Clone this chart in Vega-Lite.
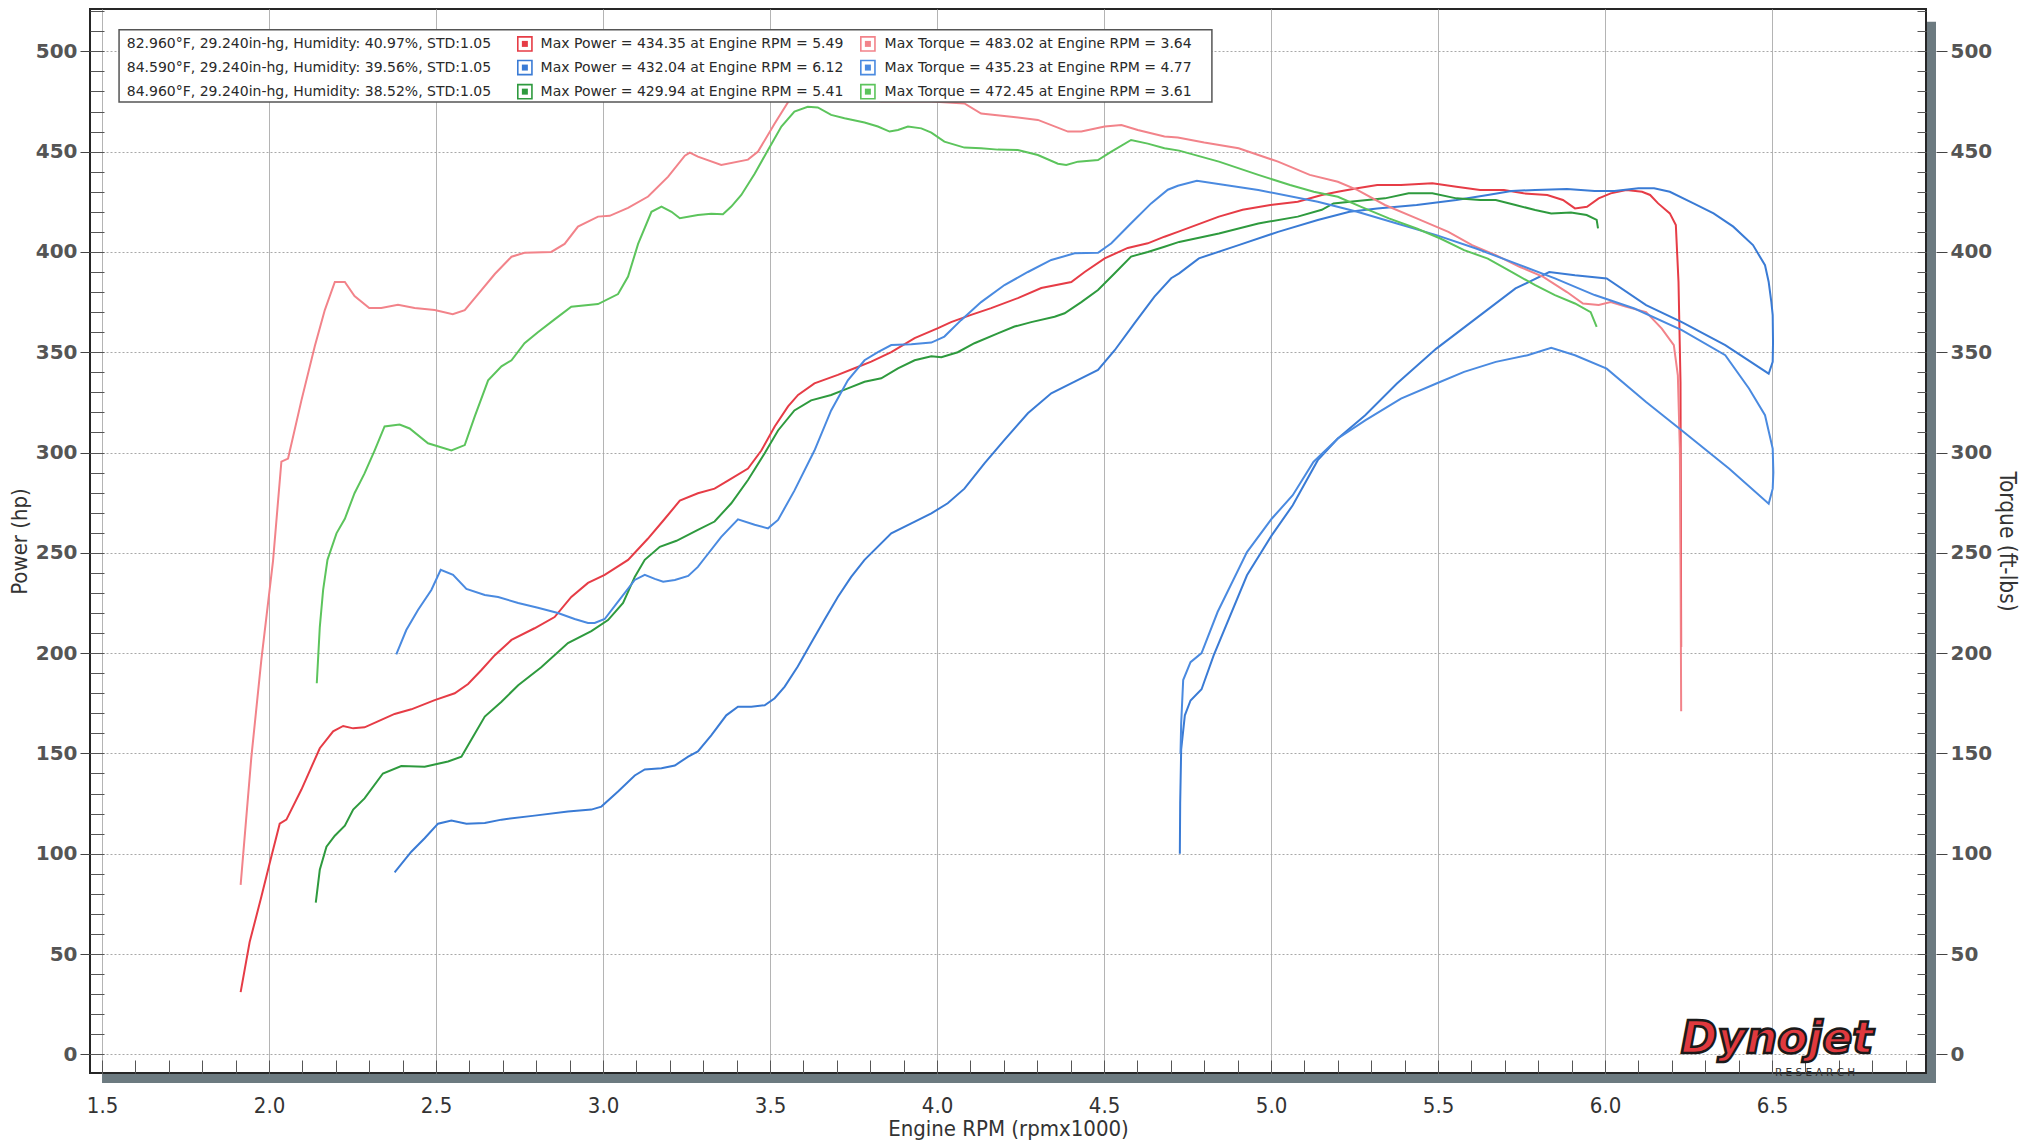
{
"$schema":"https://vega.github.io/schema/vega-lite/v6.json",
"width":1836,"height":1064,
"autosize":{"type":"none"},
"padding":{"left":90,"top":9,"right":102,"bottom":73},
"background":"white",
"config":{"view":{"stroke":"#262626","strokeWidth":2}},
"datasets":{
"power":[
{"run":"r1","rpm":1.915,"hp":31},{"run":"r1","rpm":1.942,"hp":56},{"run":"r1","rpm":1.977,"hp":78.6},{"run":"r1","rpm":2.007,"hp":98.6},{"run":"r1","rpm":2.032,"hp":115},{"run":"r1","rpm":2.052,"hp":117},{"run":"r1","rpm":2.097,"hp":132},{"run":"r1","rpm":2.152,"hp":152.6},{"run":"r1","rpm":2.192,"hp":161},{"run":"r1","rpm":2.222,"hp":163.7},{"run":"r1","rpm":2.252,"hp":162.5},{"run":"r1","rpm":2.286,"hp":163},{"run":"r1","rpm":2.326,"hp":166},{"run":"r1","rpm":2.376,"hp":169.7},{"run":"r1","rpm":2.426,"hp":172},{"run":"r1","rpm":2.496,"hp":176.6},{"run":"r1","rpm":2.556,"hp":180},{"run":"r1","rpm":2.596,"hp":184.6},{"run":"r1","rpm":2.636,"hp":191.6},{"run":"r1","rpm":2.676,"hp":199},{"run":"r1","rpm":2.726,"hp":206.6},{"run":"r1","rpm":2.795,"hp":212.4},{"run":"r1","rpm":2.855,"hp":218},{"run":"r1","rpm":2.905,"hp":228},{"run":"r1","rpm":2.955,"hp":235},{"run":"r1","rpm":3.005,"hp":239},{"run":"r1","rpm":3.075,"hp":246.5},{"run":"r1","rpm":3.134,"hp":257},{"run":"r1","rpm":3.18,"hp":266},{"run":"r1","rpm":3.23,"hp":276},{"run":"r1","rpm":3.284,"hp":279.7},{"run":"r1","rpm":3.334,"hp":282},{"run":"r1","rpm":3.374,"hp":286},{"run":"r1","rpm":3.434,"hp":292},{"run":"r1","rpm":3.474,"hp":301},{"run":"r1","rpm":3.514,"hp":313},{"run":"r1","rpm":3.554,"hp":323},{"run":"r1","rpm":3.584,"hp":328.7},{"run":"r1","rpm":3.633,"hp":334.5},{"run":"r1","rpm":3.703,"hp":338.7},{"run":"r1","rpm":3.753,"hp":342},{"run":"r1","rpm":3.803,"hp":345.3},{"run":"r1","rpm":3.863,"hp":350},{"run":"r1","rpm":3.933,"hp":357},{"run":"r1","rpm":4.003,"hp":362},{"run":"r1","rpm":4.042,"hp":365},{"run":"r1","rpm":4.102,"hp":368.6},{"run":"r1","rpm":4.162,"hp":372},{"run":"r1","rpm":4.242,"hp":377},{"run":"r1","rpm":4.312,"hp":382},{"run":"r1","rpm":4.402,"hp":385},{"run":"r1","rpm":4.442,"hp":390},{"run":"r1","rpm":4.502,"hp":396.8},{"run":"r1","rpm":4.571,"hp":402},{"run":"r1","rpm":4.631,"hp":404.3},{"run":"r1","rpm":4.681,"hp":407.6},{"run":"r1","rpm":4.721,"hp":410},{"run":"r1","rpm":4.844,"hp":417.6},{"run":"r1","rpm":4.915,"hp":421},{"run":"r1","rpm":4.998,"hp":423.4},{"run":"r1","rpm":5.08,"hp":425},{"run":"r1","rpm":5.152,"hp":428.4},{"run":"r1","rpm":5.2,"hp":430},{"run":"r1","rpm":5.258,"hp":431.7},{"run":"r1","rpm":5.318,"hp":433.4},{"run":"r1","rpm":5.389,"hp":433.4},{"run":"r1","rpm":5.483,"hp":434.2},{"run":"r1","rpm":5.555,"hp":432.5},{"run":"r1","rpm":5.626,"hp":430.9},{"run":"r1","rpm":5.697,"hp":430.9},{"run":"r1","rpm":5.756,"hp":429.2},{"run":"r1","rpm":5.827,"hp":428.4},{"run":"r1","rpm":5.874,"hp":425.9},{"run":"r1","rpm":5.91,"hp":421.7},{"run":"r1","rpm":5.946,"hp":422.5},{"run":"r1","rpm":5.981,"hp":426.7},{"run":"r1","rpm":6.017,"hp":429.2},{"run":"r1","rpm":6.064,"hp":430.9},{"run":"r1","rpm":6.111,"hp":430},{"run":"r1","rpm":6.135,"hp":428.4},{"run":"r1","rpm":6.159,"hp":424.2},{"run":"r1","rpm":6.194,"hp":419.2},{"run":"r1","rpm":6.212,"hp":413.4},{"run":"r1","rpm":6.22,"hp":385},{"run":"r1","rpm":6.226,"hp":335},{"run":"r1","rpm":6.228,"hp":203},
{"run":"r2","rpm":2.376,"hp":90.7},{"run":"r2","rpm":2.426,"hp":101},{"run":"r2","rpm":2.466,"hp":107.7},{"run":"r2","rpm":2.506,"hp":115},{"run":"r2","rpm":2.546,"hp":116.5},{"run":"r2","rpm":2.591,"hp":115},{"run":"r2","rpm":2.646,"hp":115.3},{"run":"r2","rpm":2.696,"hp":117},{"run":"r2","rpm":2.795,"hp":119},{"run":"r2","rpm":2.895,"hp":121},{"run":"r2","rpm":2.965,"hp":122},{"run":"r2","rpm":2.995,"hp":123.5},{"run":"r2","rpm":3.045,"hp":131},{"run":"r2","rpm":3.095,"hp":139},{"run":"r2","rpm":3.125,"hp":142},{"run":"r2","rpm":3.175,"hp":142.6},{"run":"r2","rpm":3.215,"hp":144},{"run":"r2","rpm":3.255,"hp":148.4},{"run":"r2","rpm":3.284,"hp":151},{"run":"r2","rpm":3.324,"hp":159},{"run":"r2","rpm":3.369,"hp":169},{"run":"r2","rpm":3.404,"hp":173.3},{"run":"r2","rpm":3.444,"hp":173.3},{"run":"r2","rpm":3.484,"hp":174},{"run":"r2","rpm":3.514,"hp":177.5},{"run":"r2","rpm":3.544,"hp":183.3},{"run":"r2","rpm":3.583,"hp":193.3},{"run":"r2","rpm":3.623,"hp":205},{"run":"r2","rpm":3.663,"hp":216.6},{"run":"r2","rpm":3.703,"hp":228},{"run":"r2","rpm":3.743,"hp":238},{"run":"r2","rpm":3.783,"hp":246.5},{"run":"r2","rpm":3.863,"hp":259.7},{"run":"r2","rpm":3.923,"hp":264.7},{"run":"r2","rpm":3.983,"hp":269.7},{"run":"r2","rpm":4.032,"hp":274.7},{"run":"r2","rpm":4.082,"hp":282},{"run":"r2","rpm":4.142,"hp":294.6},{"run":"r2","rpm":4.202,"hp":306.3},{"run":"r2","rpm":4.272,"hp":319.6},{"run":"r2","rpm":4.342,"hp":329.5},{"run":"r2","rpm":4.412,"hp":335.3},{"run":"r2","rpm":4.482,"hp":341.2},{"run":"r2","rpm":4.532,"hp":351},{"run":"r2","rpm":4.591,"hp":364.4},{"run":"r2","rpm":4.651,"hp":377.7},{"run":"r2","rpm":4.701,"hp":386.9},{"run":"r2","rpm":4.725,"hp":389.3},{"run":"r2","rpm":4.784,"hp":396.8},{"run":"r2","rpm":4.903,"hp":403.4},{"run":"r2","rpm":5.021,"hp":410},{"run":"r2","rpm":5.14,"hp":415.9},{"run":"r2","rpm":5.235,"hp":420},{"run":"r2","rpm":5.318,"hp":421.7},{"run":"r2","rpm":5.436,"hp":423.4},{"run":"r2","rpm":5.555,"hp":425.9},{"run":"r2","rpm":5.649,"hp":428.4},{"run":"r2","rpm":5.72,"hp":430.4},{"run":"r2","rpm":5.791,"hp":430.9},{"run":"r2","rpm":5.886,"hp":431.4},{"run":"r2","rpm":5.969,"hp":430.4},{"run":"r2","rpm":6.028,"hp":430.4},{"run":"r2","rpm":6.1,"hp":431.7},{"run":"r2","rpm":6.147,"hp":431.7},{"run":"r2","rpm":6.194,"hp":430},{"run":"r2","rpm":6.265,"hp":424.2},{"run":"r2","rpm":6.325,"hp":419.2},{"run":"r2","rpm":6.384,"hp":412.6},{"run":"r2","rpm":6.443,"hp":403.4},{"run":"r2","rpm":6.479,"hp":393.4},{"run":"r2","rpm":6.49,"hp":385},{"run":"r2","rpm":6.498,"hp":375},{"run":"r2","rpm":6.502,"hp":368.5},{"run":"r2","rpm":6.503,"hp":355},{"run":"r2","rpm":6.502,"hp":345.2},{"run":"r2","rpm":6.49,"hp":339.3},{"run":"r2","rpm":6.36,"hp":353.5},{"run":"r2","rpm":6.23,"hp":365},{"run":"r2","rpm":6.123,"hp":373.5},{"run":"r2","rpm":6.005,"hp":386.8},{"run":"r2","rpm":5.91,"hp":388.4},{"run":"r2","rpm":5.833,"hp":390},{"run":"r2","rpm":5.732,"hp":381.8},{"run":"r2","rpm":5.614,"hp":366.9},{"run":"r2","rpm":5.495,"hp":351.8},{"run":"r2","rpm":5.377,"hp":334.4},{"run":"r2","rpm":5.282,"hp":318.6},{"run":"r2","rpm":5.2,"hp":307},{"run":"r2","rpm":5.14,"hp":296.2},{"run":"r2","rpm":5.065,"hp":273.7},{"run":"r2","rpm":5.002,"hp":258.7},{"run":"r2","rpm":4.928,"hp":238.8},{"run":"r2","rpm":4.828,"hp":198.8},{"run":"r2","rpm":4.792,"hp":182},{"run":"r2","rpm":4.759,"hp":176.4},{"run":"r2","rpm":4.742,"hp":169},{"run":"r2","rpm":4.731,"hp":152},{"run":"r2","rpm":4.728,"hp":125},{"run":"r2","rpm":4.727,"hp":100},
{"run":"r3","rpm":2.14,"hp":75.6},{"run":"r3","rpm":2.152,"hp":92},{"run":"r3","rpm":2.172,"hp":103.5},{"run":"r3","rpm":2.197,"hp":109},{"run":"r3","rpm":2.227,"hp":114},{"run":"r3","rpm":2.252,"hp":122},{"run":"r3","rpm":2.286,"hp":127.6},{"run":"r3","rpm":2.341,"hp":140},{"run":"r3","rpm":2.396,"hp":143.7},{"run":"r3","rpm":2.466,"hp":143.4},{"run":"r3","rpm":2.536,"hp":146},{"run":"r3","rpm":2.576,"hp":148.4},{"run":"r3","rpm":2.606,"hp":157},{"run":"r3","rpm":2.646,"hp":168.4},{"run":"r3","rpm":2.696,"hp":175.8},{"run":"r3","rpm":2.746,"hp":184},{"run":"r3","rpm":2.815,"hp":193},{"run":"r3","rpm":2.895,"hp":205},{"run":"r3","rpm":2.965,"hp":211},{"run":"r3","rpm":3.015,"hp":216.5},{"run":"r3","rpm":3.06,"hp":225},{"run":"r3","rpm":3.095,"hp":238},{"run":"r3","rpm":3.125,"hp":246.5},{"run":"r3","rpm":3.17,"hp":253},{"run":"r3","rpm":3.22,"hp":256},{"run":"r3","rpm":3.284,"hp":261.4},{"run":"r3","rpm":3.334,"hp":265.6},{"run":"r3","rpm":3.384,"hp":274.7},{"run":"r3","rpm":3.434,"hp":286.3},{"run":"r3","rpm":3.484,"hp":299.6},{"run":"r3","rpm":3.524,"hp":311},{"run":"r3","rpm":3.573,"hp":321},{"run":"r3","rpm":3.623,"hp":326},{"run":"r3","rpm":3.683,"hp":328.7},{"run":"r3","rpm":3.733,"hp":332},{"run":"r3","rpm":3.783,"hp":335.3},{"run":"r3","rpm":3.833,"hp":337},{"run":"r3","rpm":3.883,"hp":342},{"run":"r3","rpm":3.933,"hp":346},{"run":"r3","rpm":3.983,"hp":348},{"run":"r3","rpm":4.013,"hp":347.5},{"run":"r3","rpm":4.062,"hp":350},{"run":"r3","rpm":4.112,"hp":354.5},{"run":"r3","rpm":4.182,"hp":359.4},{"run":"r3","rpm":4.232,"hp":362.8},{"run":"r3","rpm":4.282,"hp":365},{"run":"r3","rpm":4.352,"hp":367.7},{"run":"r3","rpm":4.382,"hp":369.4},{"run":"r3","rpm":4.432,"hp":375},{"run":"r3","rpm":4.482,"hp":381},{"run":"r3","rpm":4.532,"hp":389.4},{"run":"r3","rpm":4.581,"hp":397.7},{"run":"r3","rpm":4.631,"hp":400},{"run":"r3","rpm":4.681,"hp":402.6},{"run":"r3","rpm":4.725,"hp":405},{"run":"r3","rpm":4.844,"hp":409.2},{"run":"r3","rpm":4.962,"hp":414.2},{"run":"r3","rpm":5.08,"hp":417.6},{"run":"r3","rpm":5.152,"hp":421},{"run":"r3","rpm":5.187,"hp":424.2},{"run":"r3","rpm":5.258,"hp":425.4},{"run":"r3","rpm":5.341,"hp":426.7},{"run":"r3","rpm":5.412,"hp":429.2},{"run":"r3","rpm":5.483,"hp":429.2},{"run":"r3","rpm":5.555,"hp":426.7},{"run":"r3","rpm":5.626,"hp":425.9},{"run":"r3","rpm":5.673,"hp":425.9},{"run":"r3","rpm":5.732,"hp":423.4},{"run":"r3","rpm":5.791,"hp":420.9},{"run":"r3","rpm":5.839,"hp":419.2},{"run":"r3","rpm":5.898,"hp":419.7},{"run":"r3","rpm":5.945,"hp":418.4},{"run":"r3","rpm":5.975,"hp":416},{"run":"r3","rpm":5.979,"hp":411.7}
],
"torque":[
{"run":"r1","rpm":1.915,"tq":84.5},{"run":"r1","rpm":1.947,"tq":148},{"run":"r1","rpm":1.977,"tq":196.6},{"run":"r1","rpm":2.012,"tq":246},{"run":"r1","rpm":2.037,"tq":295.5},{"run":"r1","rpm":2.057,"tq":297},{"run":"r1","rpm":2.097,"tq":326},{"run":"r1","rpm":2.137,"tq":353},{"run":"r1","rpm":2.167,"tq":371},{"run":"r1","rpm":2.197,"tq":385},{"run":"r1","rpm":2.227,"tq":385},{"run":"r1","rpm":2.256,"tq":378},{"run":"r1","rpm":2.3,"tq":372},{"run":"r1","rpm":2.336,"tq":372},{"run":"r1","rpm":2.386,"tq":373.6},{"run":"r1","rpm":2.436,"tq":372},{"run":"r1","rpm":2.496,"tq":371},{"run":"r1","rpm":2.55,"tq":369},{"run":"r1","rpm":2.586,"tq":371},{"run":"r1","rpm":2.626,"tq":379},{"run":"r1","rpm":2.676,"tq":389},{"run":"r1","rpm":2.726,"tq":397.6},{"run":"r1","rpm":2.765,"tq":399.6},{"run":"r1","rpm":2.845,"tq":400},{"run":"r1","rpm":2.885,"tq":404},{"run":"r1","rpm":2.925,"tq":412.6},{"run":"r1","rpm":2.985,"tq":417.6},{"run":"r1","rpm":3.02,"tq":418},{"run":"r1","rpm":3.075,"tq":422},{"run":"r1","rpm":3.135,"tq":427.6},{"run":"r1","rpm":3.195,"tq":437.5},{"run":"r1","rpm":3.245,"tq":448},{"run":"r1","rpm":3.26,"tq":449.5},{"run":"r1","rpm":3.284,"tq":447.5},{"run":"r1","rpm":3.354,"tq":443.4},{"run":"r1","rpm":3.434,"tq":446},{"run":"r1","rpm":3.464,"tq":450},{"run":"r1","rpm":3.514,"tq":464},{"run":"r1","rpm":3.558,"tq":475.8},{"run":"r1","rpm":3.6,"tq":480},{"run":"r1","rpm":3.64,"tq":483},{"run":"r1","rpm":3.72,"tq":480},{"run":"r1","rpm":3.8,"tq":476},{"run":"r1","rpm":3.833,"tq":475},{"run":"r1","rpm":3.983,"tq":475},{"run":"r1","rpm":4.082,"tq":474},{"run":"r1","rpm":4.132,"tq":469},{"run":"r1","rpm":4.222,"tq":467.4},{"run":"r1","rpm":4.302,"tq":465.8},{"run":"r1","rpm":4.392,"tq":460},{"run":"r1","rpm":4.432,"tq":460},{"run":"r1","rpm":4.502,"tq":462.5},{"run":"r1","rpm":4.552,"tq":463.3},{"run":"r1","rpm":4.601,"tq":460.8},{"run":"r1","rpm":4.681,"tq":457.5},{"run":"r1","rpm":4.721,"tq":457},{"run":"r1","rpm":4.8,"tq":454.5},{"run":"r1","rpm":4.903,"tq":451.7},{"run":"r1","rpm":5.021,"tq":445},{"run":"r1","rpm":5.116,"tq":438.4},{"run":"r1","rpm":5.2,"tq":435},{"run":"r1","rpm":5.258,"tq":430.9},{"run":"r1","rpm":5.341,"tq":423.4},{"run":"r1","rpm":5.436,"tq":416.7},{"run":"r1","rpm":5.531,"tq":410},{"run":"r1","rpm":5.602,"tq":403.4},{"run":"r1","rpm":5.673,"tq":398.4},{"run":"r1","rpm":5.744,"tq":392.6},{"run":"r1","rpm":5.815,"tq":387.6},{"run":"r1","rpm":5.886,"tq":380},{"run":"r1","rpm":5.934,"tq":374.3},{"run":"r1","rpm":5.981,"tq":373.5},{"run":"r1","rpm":6.017,"tq":375},{"run":"r1","rpm":6.064,"tq":372.6},{"run":"r1","rpm":6.123,"tq":370},{"run":"r1","rpm":6.17,"tq":361.8},{"run":"r1","rpm":6.206,"tq":353.5},{"run":"r1","rpm":6.218,"tq":338.5},{"run":"r1","rpm":6.224,"tq":302},{"run":"r1","rpm":6.226,"tq":250},{"run":"r1","rpm":6.228,"tq":171},
{"run":"r2","rpm":2.381,"tq":199.4},{"run":"r2","rpm":2.411,"tq":211.5},{"run":"r2","rpm":2.446,"tq":221.5},{"run":"r2","rpm":2.486,"tq":231.5},{"run":"r2","rpm":2.514,"tq":241.5},{"run":"r2","rpm":2.551,"tq":239},{"run":"r2","rpm":2.591,"tq":232},{"run":"r2","rpm":2.646,"tq":229},{"run":"r2","rpm":2.686,"tq":228},{"run":"r2","rpm":2.746,"tq":225},{"run":"r2","rpm":2.805,"tq":222.6},{"run":"r2","rpm":2.865,"tq":220},{"run":"r2","rpm":2.915,"tq":217},{"run":"r2","rpm":2.955,"tq":215},{"run":"r2","rpm":2.975,"tq":215},{"run":"r2","rpm":3.005,"tq":217},{"run":"r2","rpm":3.045,"tq":225.7},{"run":"r2","rpm":3.095,"tq":236.5},{"run":"r2","rpm":3.125,"tq":239},{"run":"r2","rpm":3.155,"tq":237},{"run":"r2","rpm":3.18,"tq":235.6},{"run":"r2","rpm":3.215,"tq":236.5},{"run":"r2","rpm":3.255,"tq":238.5},{"run":"r2","rpm":3.284,"tq":243},{"run":"r2","rpm":3.304,"tq":247.3},{"run":"r2","rpm":3.354,"tq":258},{"run":"r2","rpm":3.404,"tq":266.7},{"run":"r2","rpm":3.454,"tq":264},{"run":"r2","rpm":3.494,"tq":262.2},{"run":"r2","rpm":3.524,"tq":266.4},{"run":"r2","rpm":3.573,"tq":281},{"run":"r2","rpm":3.633,"tq":301},{"run":"r2","rpm":3.683,"tq":321},{"run":"r2","rpm":3.733,"tq":336},{"run":"r2","rpm":3.783,"tq":346},{"run":"r2","rpm":3.823,"tq":350},{"run":"r2","rpm":3.863,"tq":353.6},{"run":"r2","rpm":3.923,"tq":354},{"run":"r2","rpm":3.983,"tq":354.8},{"run":"r2","rpm":4.022,"tq":357.8},{"run":"r2","rpm":4.072,"tq":366},{"run":"r2","rpm":4.132,"tq":375},{"run":"r2","rpm":4.202,"tq":383.5},{"run":"r2","rpm":4.272,"tq":390},{"run":"r2","rpm":4.342,"tq":396},{"run":"r2","rpm":4.412,"tq":399.3},{"run":"r2","rpm":4.482,"tq":399.6},{"run":"r2","rpm":4.522,"tq":404.3},{"run":"r2","rpm":4.581,"tq":414.3},{"run":"r2","rpm":4.641,"tq":424.2},{"run":"r2","rpm":4.691,"tq":431},{"run":"r2","rpm":4.721,"tq":433},{"run":"r2","rpm":4.778,"tq":435.5},{"run":"r2","rpm":4.962,"tq":430.9},{"run":"r2","rpm":5.14,"tq":425},{"run":"r2","rpm":5.258,"tq":420},{"run":"r2","rpm":5.377,"tq":414.2},{"run":"r2","rpm":5.495,"tq":408.4},{"run":"r2","rpm":5.614,"tq":401.7},{"run":"r2","rpm":5.732,"tq":394.3},{"run":"r2","rpm":5.85,"tq":386.8},{"run":"r2","rpm":5.969,"tq":378.5},{"run":"r2","rpm":6.088,"tq":371.8},{"run":"r2","rpm":6.23,"tq":361},{"run":"r2","rpm":6.36,"tq":348.5},{"run":"r2","rpm":6.431,"tq":331.9},{"run":"r2","rpm":6.479,"tq":318.6},{"run":"r2","rpm":6.502,"tq":302},{"run":"r2","rpm":6.504,"tq":290},{"run":"r2","rpm":6.502,"tq":282},{"run":"r2","rpm":6.49,"tq":274.5},{"run":"r2","rpm":6.372,"tq":291.9},{"run":"r2","rpm":6.23,"tq":311},{"run":"r2","rpm":6.123,"tq":325.2},{"run":"r2","rpm":6.005,"tq":341.8},{"run":"r2","rpm":5.91,"tq":348.5},{"run":"r2","rpm":5.839,"tq":352.2},{"run":"r2","rpm":5.768,"tq":348.5},{"run":"r2","rpm":5.673,"tq":345.2},{"run":"r2","rpm":5.578,"tq":340.2},{"run":"r2","rpm":5.495,"tq":334.4},{"run":"r2","rpm":5.389,"tq":326.9},{"run":"r2","rpm":5.282,"tq":316},{"run":"r2","rpm":5.2,"tq":307},{"run":"r2","rpm":5.127,"tq":295.3},{"run":"r2","rpm":5.065,"tq":278.7},{"run":"r2","rpm":5.002,"tq":267},{"run":"r2","rpm":4.928,"tq":250.4},{"run":"r2","rpm":4.84,"tq":220.5},{"run":"r2","rpm":4.792,"tq":200},{"run":"r2","rpm":4.759,"tq":195.5},{"run":"r2","rpm":4.737,"tq":186.6},{"run":"r2","rpm":4.731,"tq":165},{"run":"r2","rpm":4.729,"tq":150},
{"run":"r3","rpm":2.143,"tq":185},{"run":"r3","rpm":2.152,"tq":213},{"run":"r3","rpm":2.162,"tq":231.5},{"run":"r3","rpm":2.175,"tq":246.5},{"run":"r3","rpm":2.202,"tq":259.7},{"run":"r3","rpm":2.227,"tq":267},{"run":"r3","rpm":2.256,"tq":279.7},{"run":"r3","rpm":2.286,"tq":289.6},{"run":"r3","rpm":2.316,"tq":301},{"run":"r3","rpm":2.346,"tq":313},{"run":"r3","rpm":2.391,"tq":314},{"run":"r3","rpm":2.421,"tq":312},{"run":"r3","rpm":2.476,"tq":304.6},{"run":"r3","rpm":2.546,"tq":301},{"run":"r3","rpm":2.586,"tq":303.7},{"run":"r3","rpm":2.616,"tq":318},{"run":"r3","rpm":2.656,"tq":336},{"run":"r3","rpm":2.696,"tq":343},{"run":"r3","rpm":2.726,"tq":346},{"run":"r3","rpm":2.765,"tq":354.5},{"run":"r3","rpm":2.805,"tq":360},{"run":"r3","rpm":2.855,"tq":366.4},{"run":"r3","rpm":2.905,"tq":372.7},{"run":"r3","rpm":2.985,"tq":374},{"run":"r3","rpm":3.045,"tq":379},{"run":"r3","rpm":3.075,"tq":387.7},{"run":"r3","rpm":3.105,"tq":404},{"run":"r3","rpm":3.145,"tq":420},{"run":"r3","rpm":3.175,"tq":422.6},{"run":"r3","rpm":3.205,"tq":420},{"run":"r3","rpm":3.23,"tq":416.8},{"run":"r3","rpm":3.284,"tq":418.4},{"run":"r3","rpm":3.324,"tq":419},{"run":"r3","rpm":3.359,"tq":418.8},{"run":"r3","rpm":3.384,"tq":422.6},{"run":"r3","rpm":3.414,"tq":428.4},{"run":"r3","rpm":3.454,"tq":439},{"run":"r3","rpm":3.494,"tq":450.8},{"run":"r3","rpm":3.534,"tq":462.5},{"run":"r3","rpm":3.573,"tq":470},{"run":"r3","rpm":3.613,"tq":472.4},{"run":"r3","rpm":3.643,"tq":472},{"run":"r3","rpm":3.683,"tq":468.3},{"run":"r3","rpm":3.723,"tq":466.6},{"run":"r3","rpm":3.783,"tq":464.5},{"run":"r3","rpm":3.823,"tq":462.5},{"run":"r3","rpm":3.858,"tq":460},{"run":"r3","rpm":3.883,"tq":460.8},{"run":"r3","rpm":3.913,"tq":462.5},{"run":"r3","rpm":3.953,"tq":461.6},{"run":"r3","rpm":3.983,"tq":459.5},{"run":"r3","rpm":4.022,"tq":455},{"run":"r3","rpm":4.082,"tq":452},{"run":"r3","rpm":4.132,"tq":451.7},{"run":"r3","rpm":4.182,"tq":451},{"run":"r3","rpm":4.242,"tq":450.8},{"run":"r3","rpm":4.302,"tq":448.3},{"run":"r3","rpm":4.362,"tq":444},{"run":"r3","rpm":4.387,"tq":443.4},{"run":"r3","rpm":4.422,"tq":445},{"run":"r3","rpm":4.482,"tq":445.8},{"run":"r3","rpm":4.522,"tq":450},{"run":"r3","rpm":4.581,"tq":455.8},{"run":"r3","rpm":4.631,"tq":454},{"run":"r3","rpm":4.681,"tq":451.7},{"run":"r3","rpm":4.725,"tq":450.5},{"run":"r3","rpm":4.844,"tq":445},{"run":"r3","rpm":4.962,"tq":438.4},{"run":"r3","rpm":5.057,"tq":433.4},{"run":"r3","rpm":5.128,"tq":430},{"run":"r3","rpm":5.2,"tq":427.5},{"run":"r3","rpm":5.27,"tq":422.5},{"run":"r3","rpm":5.353,"tq":416.7},{"run":"r3","rpm":5.436,"tq":411.7},{"run":"r3","rpm":5.507,"tq":406.7},{"run":"r3","rpm":5.578,"tq":400.9},{"run":"r3","rpm":5.649,"tq":396.7},{"run":"r3","rpm":5.72,"tq":390},{"run":"r3","rpm":5.791,"tq":383.4},{"run":"r3","rpm":5.85,"tq":378.5},{"run":"r3","rpm":5.91,"tq":374.3},{"run":"r3","rpm":5.957,"tq":370},{"run":"r3","rpm":5.975,"tq":362.6}
],
"legend":[
{"run":"r1","cond":"82.960°F, 29.240in-hg, Humidity: 40.97%, STD:1.05","power":"Max Power = 434.35 at Engine RPM = 5.49","torque":"Max Torque = 483.02 at Engine RPM = 3.64"},
{"run":"r2","cond":"84.590°F, 29.240in-hg, Humidity: 39.56%, STD:1.05","power":"Max Power = 432.04 at Engine RPM = 6.12","torque":"Max Torque = 435.23 at Engine RPM = 4.77"},
{"run":"r3","cond":"84.960°F, 29.240in-hg, Humidity: 38.52%, STD:1.05","power":"Max Power = 429.94 at Engine RPM = 5.41","torque":"Max Torque = 472.45 at Engine RPM = 3.61"}
]
},
"resolve":{"scale":{"color":"independent"},"axis":{"x":"independent","y":"independent"}},
"layer":[
{"data":{"values":[{}]},
 "mark":{"type":"rect","color":"#6c7a80","xOffset":1,"x2Offset":10,"y2Offset":10},
 "encoding":{
  "x":{"datum":6.961,"type":"quantitative","axis":null},
  "x2":{"datum":6.961},
  "y":{"datum":514.7,"type":"quantitative","axis":{"orient":"left","offset":0,"values":[0,10,20,30,40,50,60,70,80,90,100,110,120,130,140,150,160,170,180,190,200,210,220,230,240,250,260,270,280,290,300,310,320,330,340,350,360,370,380,390,400,410,420,430,440,450,460,470,480,490,500,510,520],"tickSize":-14,"tickColor":"#555","tickWidth":1,"labels":false,"domain":false,"grid":false,"title":null}},
  "y2":{"datum":-9.3}
 }},
{"data":{"values":[{}]},
 "mark":{"type":"rect","color":"#6c7a80","yOffset":1,"y2Offset":10,"x2Offset":10},
 "encoding":{
  "x":{"datum":1.5,"type":"quantitative","axis":null},
  "x2":{"datum":6.961},
  "y":{"datum":-9.3,"type":"quantitative","axis":null},
  "y2":{"datum":-9.3}
 }},
{"data":{"name":"power"},
 "mark":{"type":"line","strokeWidth":2,"clip":true},
 "encoding":{
  "x":{"field":"rpm","type":"quantitative","scale":{"domain":[1.464,6.961],"nice":false,"zero":false},
   "axis":{"orient":"bottom","values":[1.5,1.6,1.7,1.8,1.9,2,2.1,2.2,2.3,2.4,2.5,2.6,2.7,2.8,2.9,3,3.1,3.2,3.3,3.4,3.5,3.6,3.7,3.8,3.9,4,4.1,4.2,4.3,4.4,4.5,4.6,4.7,4.8,4.9,5,5.1,5.2,5.3,5.4,5.5,5.6,5.7,5.8,5.9,6,6.1,6.2,6.3,6.4,6.5,6.6,6.7,6.8,6.9],
    "labelExpr":"abs(datum.value*2-round(datum.value*2))<0.001 ? format(datum.value,'.1f') : ''",
    "tickSize":-13,"tickColor":"#555","tickWidth":1,"domain":false,"grid":false,
    "labelFont":"Liberation Sans Narrow, DejaVu Sans Condensed, Liberation Sans, sans-serif","labelFontSize":22,"labelColor":"#333","labelPadding":35,"labelFlush":false,"labelOverlap":false,"labelBound":false,
    "title":"Engine RPM (rpmx1000)","titleFont":"Liberation Sans Narrow, DejaVu Sans Condensed, Liberation Sans, sans-serif","titleFontSize":22,"titleFontWeight":"normal","titleColor":"#333","titlePadding":2}},
  "y":{"field":"hp","type":"quantitative","scale":{"domain":[-9.3,521.1],"nice":false,"zero":false},
   "axis":{"orient":"left","values":[0,50,100,150,200,250,300,350,400,450,500],"tickSize":10,"tickColor":"#444","domain":false,
    "grid":true,"gridColor":"#a8a8a8","gridDash":[2,2],"gridWidth":1,
    "labelFont":"DejaVu Sans","labelFontSize":20,"labelFontWeight":"bold","labelColor":"#555","labelPadding":3,
    "title":"Power (hp)","titleFont":"Liberation Sans Narrow, DejaVu Sans Condensed, Liberation Sans, sans-serif","titleFontSize":22,"titleFontWeight":"normal","titleColor":"#333","titlePadding":4}},
  "color":{"field":"run","type":"nominal","scale":{"domain":["r1","r2","r3"],"range":["#e63c46","#3a7bd5","#2e9a3e"]},"legend":null},
  "order":{"value":null}
 }},
{"data":{"name":"torque"},
 "mark":{"type":"line","strokeWidth":2,"clip":true},
 "encoding":{
  "x":{"field":"rpm","type":"quantitative",
   "axis":{"orient":"top","values":[1.5,2,2.5,3,3.5,4,4.5,5,5.5,6,6.5],"grid":true,"gridColor":"#b4b4b4","gridWidth":1,"ticks":false,"labels":false,"domain":false,"title":null}},
  "y":{"field":"tq","type":"quantitative",
   "axis":{"orient":"right","offset":10,"values":[0,50,100,150,200,250,300,350,400,450,500],"tickSize":11,"tickColor":"#444","domain":false,"grid":false,
    "labelFont":"DejaVu Sans","labelFontSize":20,"labelFontWeight":"bold","labelColor":"#555","labelPadding":3,
    "title":"Torque (ft-lbs)","titleFont":"Liberation Sans Narrow, DejaVu Sans Condensed, Liberation Sans, sans-serif","titleFontSize":22.5,"titleFontWeight":"normal","titleColor":"#333","titlePadding":3}},
  "color":{"field":"run","type":"nominal","scale":{"domain":["r1","r2","r3"],"range":["#f2838a","#4a8ae0","#5cc45c"]},"legend":null},
  "order":{"value":null}
 }},
{"data":{"values":[{}]},
 "mark":{"type":"text","text":"Dynojet","font":"DejaVu Sans","fontSize":44,"fontWeight":"bold","fontStyle":"italic","fill":"#e0393e","stroke":"#1a1a1a","strokeWidth":2.5,"align":"center","baseline":"middle"},
 "encoding":{
  "x":{"datum":6.515,"type":"quantitative","axis":null},
  "y":{"datum":7,"type":"quantitative","axis":{"orient":"right","offset":0,"values":[0,10,20,30,40,50,60,70,80,90,100,110,120,130,140,150,160,170,180,190,200,210,220,230,240,250,260,270,280,290,300,310,320,330,340,350,360,370,380,390,400,410,420,430,440,450,460,470,480,490,500,510,520],"tickSize":-9,"tickColor":"#555","tickWidth":1,"labels":false,"domain":false,"grid":false,"title":null}}
 }},
{"data":{"values":[{}]},
 "mark":{"type":"text","text":"R  E  S  E  A  R  C  H","font":"DejaVu Sans","fontSize":10.5,"fill":"#333","align":"center","baseline":"middle"},
 "encoding":{
  "x":{"datum":6.629,"type":"quantitative","axis":null},
  "y":{"datum":-9.2,"type":"quantitative","axis":null}
 }},
{"data":{"values":[{}]},
 "mark":{"type":"rect","fill":"white","stroke":"#555","strokeWidth":1.5},
 "encoding":{
  "x":{"datum":1.551,"type":"quantitative","axis":null},
  "x2":{"datum":4.823},
  "y":{"datum":510.8,"type":"quantitative","axis":null},
  "y2":{"datum":474.7}
 }},
{"data":{"name":"legend"},"transform":[{"filter":"datum.run == 'r1'"}],
 "encoding":{"y":{"datum":503.7,"type":"quantitative","axis":null}},
 "layer":[
  {"mark":{"type":"text","align":"left","baseline":"middle","font":"DejaVu Sans","fontSize":14,"fill":"#2a2a2a"},"encoding":{"x":{"datum":1.574,"type":"quantitative","axis":null},"text":{"field":"cond"}}},
  {"mark":{"type":"point","shape":"square","size":200,"fill":"white","stroke":"#e63c46","strokeWidth":1.6,"opacity":1},"encoding":{"x":{"datum":2.766,"type":"quantitative","axis":null}}},
  {"mark":{"type":"point","shape":"square","size":36,"fill":"#e63c46","stroke":null,"opacity":1},"encoding":{"x":{"datum":2.766,"type":"quantitative","axis":null}}},
  {"mark":{"type":"text","align":"left","baseline":"middle","font":"DejaVu Sans","fontSize":14,"fill":"#2a2a2a"},"encoding":{"x":{"datum":2.813,"type":"quantitative","axis":null},"text":{"field":"power"}}},
  {"mark":{"type":"point","shape":"square","size":200,"fill":"white","stroke":"#f2838a","strokeWidth":1.6,"opacity":1},"encoding":{"x":{"datum":3.793,"type":"quantitative","axis":null}}},
  {"mark":{"type":"point","shape":"square","size":36,"fill":"#f2838a","stroke":null,"opacity":1},"encoding":{"x":{"datum":3.793,"type":"quantitative","axis":null}}},
  {"mark":{"type":"text","align":"left","baseline":"middle","font":"DejaVu Sans","fontSize":14,"fill":"#2a2a2a"},"encoding":{"x":{"datum":3.843,"type":"quantitative","axis":null},"text":{"field":"torque"}}}
 ]},
{"data":{"name":"legend"},"transform":[{"filter":"datum.run == 'r2'"}],
 "encoding":{"y":{"datum":491.9,"type":"quantitative","axis":null}},
 "layer":[
  {"mark":{"type":"text","align":"left","baseline":"middle","font":"DejaVu Sans","fontSize":14,"fill":"#2a2a2a"},"encoding":{"x":{"datum":1.574,"type":"quantitative","axis":null},"text":{"field":"cond"}}},
  {"mark":{"type":"point","shape":"square","size":200,"fill":"white","stroke":"#3a7bd5","strokeWidth":1.6,"opacity":1},"encoding":{"x":{"datum":2.766,"type":"quantitative","axis":null}}},
  {"mark":{"type":"point","shape":"square","size":36,"fill":"#3a7bd5","stroke":null,"opacity":1},"encoding":{"x":{"datum":2.766,"type":"quantitative","axis":null}}},
  {"mark":{"type":"text","align":"left","baseline":"middle","font":"DejaVu Sans","fontSize":14,"fill":"#2a2a2a"},"encoding":{"x":{"datum":2.813,"type":"quantitative","axis":null},"text":{"field":"power"}}},
  {"mark":{"type":"point","shape":"square","size":200,"fill":"white","stroke":"#4a8ae0","strokeWidth":1.6,"opacity":1},"encoding":{"x":{"datum":3.793,"type":"quantitative","axis":null}}},
  {"mark":{"type":"point","shape":"square","size":36,"fill":"#4a8ae0","stroke":null,"opacity":1},"encoding":{"x":{"datum":3.793,"type":"quantitative","axis":null}}},
  {"mark":{"type":"text","align":"left","baseline":"middle","font":"DejaVu Sans","fontSize":14,"fill":"#2a2a2a"},"encoding":{"x":{"datum":3.843,"type":"quantitative","axis":null},"text":{"field":"torque"}}}
 ]},
{"data":{"name":"legend"},"transform":[{"filter":"datum.run == 'r3'"}],
 "encoding":{"y":{"datum":479.9,"type":"quantitative","axis":null}},
 "layer":[
  {"mark":{"type":"text","align":"left","baseline":"middle","font":"DejaVu Sans","fontSize":14,"fill":"#2a2a2a"},"encoding":{"x":{"datum":1.574,"type":"quantitative","axis":null},"text":{"field":"cond"}}},
  {"mark":{"type":"point","shape":"square","size":200,"fill":"white","stroke":"#2e9a3e","strokeWidth":1.6,"opacity":1},"encoding":{"x":{"datum":2.766,"type":"quantitative","axis":null}}},
  {"mark":{"type":"point","shape":"square","size":36,"fill":"#2e9a3e","stroke":null,"opacity":1},"encoding":{"x":{"datum":2.766,"type":"quantitative","axis":null}}},
  {"mark":{"type":"text","align":"left","baseline":"middle","font":"DejaVu Sans","fontSize":14,"fill":"#2a2a2a"},"encoding":{"x":{"datum":2.813,"type":"quantitative","axis":null},"text":{"field":"power"}}},
  {"mark":{"type":"point","shape":"square","size":200,"fill":"white","stroke":"#5cc45c","strokeWidth":1.6,"opacity":1},"encoding":{"x":{"datum":3.793,"type":"quantitative","axis":null}}},
  {"mark":{"type":"point","shape":"square","size":36,"fill":"#5cc45c","stroke":null,"opacity":1},"encoding":{"x":{"datum":3.793,"type":"quantitative","axis":null}}},
  {"mark":{"type":"text","align":"left","baseline":"middle","font":"DejaVu Sans","fontSize":14,"fill":"#2a2a2a"},"encoding":{"x":{"datum":3.843,"type":"quantitative","axis":null},"text":{"field":"torque"}}}
 ]}
]
}
